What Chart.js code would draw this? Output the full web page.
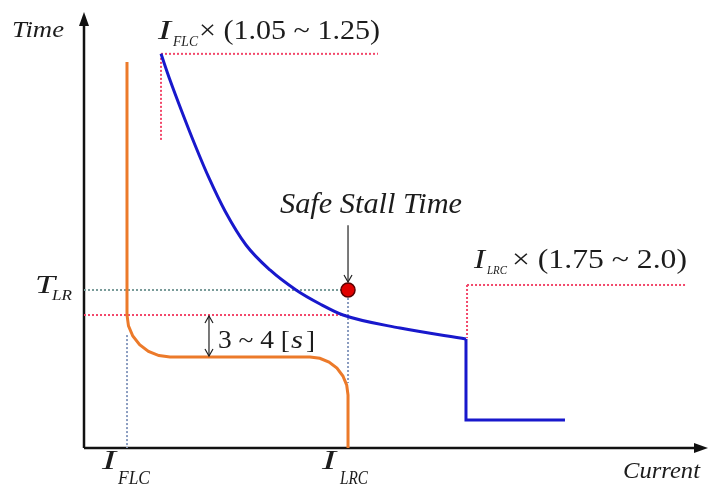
<!DOCTYPE html>
<html>
<head>
<meta charset="utf-8">
<script src="https://cdn.jsdelivr.net/npm/chart.js@4.4.1/dist/chart.umd.min.js"></script>
<style>
  html, body { margin: 0; padding: 0; background: #fff; }
  #chart { display: block; }
</style>
</head>
<body>
<canvas id="chart" width="710" height="486"></canvas>
<script>
// normalised units: current 0..100 along x, time 0..100 along y (no ticks in the original)

// motor starting curve (orange)
var motorX = [6.98, 6.98, 7.22, 7.92, 9.03, 10.47, 12.16, 13.96, 36.69, 38.28, 39.77, 41.06, 42.03, 42.65, 42.86, 42.86];
var motorY = [88.53, 30.50, 28.00, 25.69, 23.69, 22.16, 21.19, 20.87, 20.87, 20.57, 19.70, 18.33, 16.51, 14.40, 12.16, 0];

// relay trip curve (blue), inverse time part and instantaneous part
var relayX = [12.50, 13.96, 15.91, 18.02, 20.29, 22.89, 26.30, 30.19, 34.42, 38.31, 42.05, 51.30, 62.01];
var relayY = [90.40, 84.40, 77.06, 69.50, 61.93, 54.36, 46.56, 40.83, 36.24, 33.03, 30.50, 27.52, 25.00];
var instX = [62.01, 62.01, 78.08];
var instY = [25.00, 6.42, 6.42];

// reference levels
var iFLC = 6.98, iLRC = 42.86;
var tLR = 36.24, tKnee = 30.50, tPlateau = 20.87;
var pickupX = 12.50, pickupTop = 90.40, pickupLow = 70.64, pickupRight = 47.73;
var instSetX = 62.18, instSetY = 37.39, instSetRight = 97.89;
var stallArrowTop = 51.1, gapArrowX = 20.29;

function pts(xs, ys) {
    return xs.map(function (x, i) { return {x: x, y: ys[i]}; });
}

var guideRed = '#f2476a', guideTeal = '#7a9c9a', guideBlue = '#8a9cc0';

function guide(data, color) {
    return {data: data, showLine: true, borderColor: color, borderWidth: 2,
            borderDash: [2, 2], pointRadius: 0, tension: 0, order: 3};
}

var datasets = [
    {data: [{x: iLRC, y: tLR}], pointRadius: 7, pointBackgroundColor: '#e00000',
     pointBorderColor: '#5a0000', pointBorderWidth: 1.5, showLine: false, order: 0},
    {data: pts(motorX, motorY), showLine: true, borderColor: '#ec7a2a', borderWidth: 3,
     pointRadius: 0, tension: 0, order: 1},
    {data: pts(relayX, relayY), showLine: true, borderColor: '#1818cc', borderWidth: 3,
     pointRadius: 0, cubicInterpolationMode: 'monotone', order: 1},
    {data: pts(instX, instY), showLine: true, borderColor: '#1818cc', borderWidth: 3,
     pointRadius: 0, tension: 0, order: 1},
    guide([{x: pickupX, y: pickupTop}, {x: pickupRight, y: pickupTop}], guideRed),
    guide([{x: pickupX, y: pickupTop}, {x: pickupX, y: pickupLow}], guideRed),
    guide([{x: 0, y: tLR}, {x: iLRC, y: tLR}], guideTeal),
    guide([{x: 0, y: tKnee}, {x: iLRC, y: tKnee}], guideRed),
    guide([{x: iFLC, y: 25.9}, {x: iFLC, y: 0}], guideBlue),
    guide([{x: iLRC, y: tLR}, {x: iLRC, y: 14.9}], guideBlue),
    guide([{x: instSetX, y: instSetY}, {x: instSetX, y: 25.2}], guideRed),
    guide([{x: instSetX, y: instSetY}, {x: instSetRight, y: instSetY}], guideRed)
];

function put(ctx, s, x, y, font, w) {
    ctx.font = font;
    var m = ctx.measureText(s).width;
    ctx.save();
    ctx.translate(x, y);
    if (w) ctx.scale(w / m, 1);
    ctx.fillText(s, 0, 0);
    ctx.restore();
}

function vHead(ctx, x, y, dir) {
    ctx.beginPath();
    ctx.moveTo(x - 4, y - 7 * dir);
    ctx.lineTo(x, y);
    ctx.lineTo(x + 4, y - 7 * dir);
    ctx.stroke();
}

var axesPlugin = {
    id: 'axes',
    beforeDatasetsDraw: function (chart) {
        var ctx = chart.ctx, a = chart.chartArea;
        ctx.save();
        ctx.strokeStyle = '#111';
        ctx.fillStyle = '#111';
        ctx.lineWidth = 2.5;
        ctx.beginPath();
        ctx.moveTo(a.left, a.bottom);
        ctx.lineTo(a.left, a.top + 10);
        ctx.moveTo(a.left, a.bottom);
        ctx.lineTo(a.right - 2, a.bottom);
        ctx.stroke();
        ctx.beginPath();
        ctx.moveTo(a.left, a.top);
        ctx.lineTo(a.left - 5, a.top + 14);
        ctx.lineTo(a.left + 5, a.top + 14);
        ctx.closePath();
        ctx.fill();
        ctx.beginPath();
        ctx.moveTo(a.right + 8, a.bottom);
        ctx.lineTo(a.right - 6, a.bottom - 5);
        ctx.lineTo(a.right - 6, a.bottom + 5);
        ctx.closePath();
        ctx.fill();
        ctx.restore();
    },
    afterDraw: function (chart) {
        var ctx = chart.ctx, xs = chart.scales.x, ys = chart.scales.y;
        ctx.save();
        // arrows
        ctx.strokeStyle = '#222';
        ctx.lineWidth = 1.2;
        var ax = xs.getPixelForValue(iLRC);
        var ay0 = ys.getPixelForValue(stallArrowTop), ay1 = ys.getPixelForValue(tLR) - 8;
        ctx.beginPath();
        ctx.moveTo(ax, ay0);
        ctx.lineTo(ax, ay1);
        ctx.stroke();
        vHead(ctx, ax, ay1, 1);
        var gx = xs.getPixelForValue(gapArrowX);
        var g0 = ys.getPixelForValue(tKnee) + 1, g1 = ys.getPixelForValue(tPlateau) - 1;
        ctx.beginPath();
        ctx.moveTo(gx, g0);
        ctx.lineTo(gx, g1);
        ctx.stroke();
        vHead(ctx, gx, g0, -1);
        vHead(ctx, gx, g1, 1);

        // labels
        ctx.fillStyle = '#1c1c1c';
        ctx.textBaseline = 'alphabetic';
        var it = 'italic ', ser = 'px "Liberation Serif"';
        put(ctx, 'Time', 12, 37, it + 24 + ser, 52);
        put(ctx, 'Current', 623, 478, it + 24 + ser, 77);

        put(ctx, 'I', 158, 39, it + 28 + ser, 13);
        put(ctx, 'FLC', 173, 46, it + 14 + ser, 25);
        put(ctx, '\u00d7 (1.05 ~ 1.25)', 199, 39, 27 + ser, 181);

        put(ctx, 'I', 474, 268, it + 27 + ser, 11);
        put(ctx, 'LRC', 487, 274, it + 12 + ser, 20);
        put(ctx, '\u00d7 (1.75 ~ 2.0)', 512, 268, 27 + ser, 175);

        put(ctx, 'T', 35, 293, it + 25 + ser, 20);
        put(ctx, 'LR', 52, 300, it + 14 + ser, 20);

        put(ctx, 'I', 102, 469, it + 27 + ser, 14);
        put(ctx, 'FLC', 118, 484, it + 18 + ser, 32);
        put(ctx, 'I', 322, 469, it + 27 + ser, 14);
        put(ctx, 'LRC', 340, 484, it + 18 + ser, 28);

        put(ctx, 'Safe Stall Time', 280, 213, it + 29 + ser, 182);

        put(ctx, '3 ~ 4 [', 218, 348, 25 + ser, 72);
        put(ctx, 's', 291, 348, it + 25 + ser, 12);
        put(ctx, ']', 306, 348, 25 + ser, 9);
        ctx.restore();
    }
};

var ctx = document.getElementById('chart').getContext('2d');
new Chart(ctx, {
    type: 'scatter',
    data: {datasets: datasets},
    options: {
        responsive: false,
        animation: false,
        devicePixelRatio: 1,
        layout: {padding: {left: 84, right: 10, top: 12, bottom: 38}},
        plugins: {legend: {display: false}, tooltip: {enabled: false}},
        scales: {
            x: {type: 'linear', min: 0, max: 100, display: false},
            y: {type: 'linear', min: 0, max: 100, display: false}
        }
    },
    plugins: [axesPlugin]
});
</script>
</body>
</html>
